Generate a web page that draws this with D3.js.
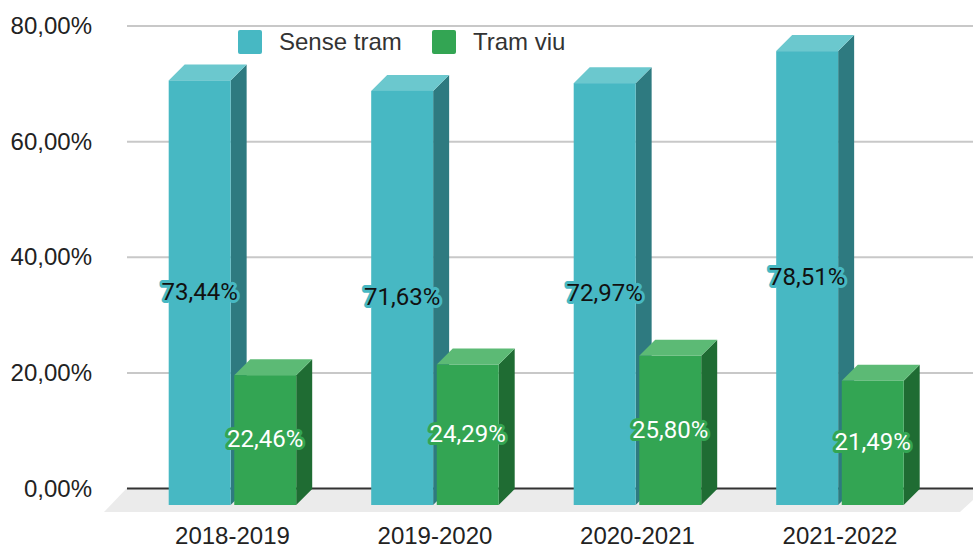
<!DOCTYPE html>
<html>
<head>
<meta charset="utf-8">
<script src="https://cdn.jsdelivr.net/npm/d3@7"></script>
<style>
  html, body { margin: 0; padding: 0; background: #fff; }
  svg { display: block; }
  text { font-family: "Liberation Sans", Arial, sans-serif; }
  .axis path, .axis line { display: none; }
  .axis text { font-size: 24px; fill: #222; font-family: "Liberation Sans", Arial, sans-serif; }
  .value { font-family: Roboto, sans-serif; }
</style>
</head>
<body>
<div id="chart"></div>
<script>
// 3D style grouped column chart
const years = ["2018-2019", "2019-2020", "2020-2021", "2021-2022"];
const senseTram = [73.44, 71.63, 72.97, 78.51];
const tramViu = [22.46, 24.29, 25.80, 21.49];
const seriesNames = ["Sense tram", "Tram viu"];
const yTicks = [0, 20, 40, 60, 80];

const width = 973, height = 547;
const depth = 16;

const colors = [
    { front: "#47b8c3", top: "#6bc8ce", side: "#2e7a80", text: "#111" },
    { front: "#33a553", top: "#5cba75", side: "#1f6c33", text: "#fff" }
];

const svg = d3.select("#chart").append("svg")
    .attr("width", width)
    .attr("height", height);

const groupW = 127.5;
const x0 = d3.scaleBand().domain(years).range([131.2, 941.2]);
const x1 = d3.scaleBand().domain([0, 1]).range([0, groupW]).paddingInner(0.055);

// front faces stand on y(0), gridlines sit on the back wall
const y = d3.scaleLinear().domain([0, 80]).range([505, 42.5]);
const yWall = d3.scaleLinear().domain([0, 80]).range([488.5, 26]);

// floor
svg.append("polygon")
    .attr("points", [[104, 512], [127, 488], [973, 488], [973, 500], [960, 512]].join(" "))
    .attr("fill", "#ebebeb");

// grid
svg.append("g")
    .selectAll("line")
    .data(yTicks)
    .enter()
    .append("line")
    .attr("x1", 127)
    .attr("x2", width)
    .attr("y1", d => yWall(d))
    .attr("y2", d => yWall(d))
    .attr("stroke", d => d === 0 ? "#333" : "#c8c8c8")
    .attr("stroke-width", 2);

// y axis
svg.append("g")
    .attr("class", "axis")
    .attr("transform", "translate(92,0)")
    .call(d3.axisLeft(yWall).tickValues(yTicks).tickSize(0).tickPadding(0)
        .tickFormat(d => d3.format(".2f")(d).replace(".", ",") + "%"));

// x axis
svg.append("g")
    .attr("class", "axis")
    .attr("transform", "translate(0,525)")
    .call(d3.axisBottom(x0).tickSize(0).tickPadding(0))
    .selectAll("text")
    .attr("dy", "0.36em")
    .attr("y", 10);

const bars = [];
years.forEach((yr, i) => {
    [senseTram[i], tramViu[i]].forEach((v, s) => bars.push({ yr, v, s }));
});

const barW = x1.bandwidth();
const barX = d => x0(d.yr) + (x0.bandwidth() - groupW) / 2 + x1(d.s);

const bar = svg.append("g").selectAll("g")
    .data(bars)
    .enter()
    .append("g");

// side
bar.append("polygon")
    .attr("fill", d => colors[d.s].side)
    .attr("points", d => {
        const r = barX(d) + barW, t = y(d.v), b = y(0);
        return [[r, t], [r + depth, t - depth], [r + depth, b - depth], [r, b]].join(" ");
    });

// top
bar.append("polygon")
    .attr("fill", d => colors[d.s].top)
    .attr("points", d => {
        const l = barX(d), t = y(d.v);
        return [[l, t], [l + depth, t - depth], [l + barW + depth, t - depth], [l + barW, t]].join(" ");
    });

// front
bar.append("rect")
    .attr("x", barX)
    .attr("y", d => y(d.v))
    .attr("width", barW)
    .attr("height", d => y(0) - y(d.v))
    .attr("fill", d => colors[d.s].front);

// value labels
svg.append("g").selectAll("text")
    .data(bars)
    .enter()
    .append("text")
    .attr("class", "value")
    .attr("x", d => barX(d) + barW / 2)
    .attr("y", d => (y(d.v) + y(0)) / 2 - 1.5)
    .attr("dy", "0.36em")
    .attr("text-anchor", "middle")
    .attr("font-size", 24)
    .attr("fill", d => colors[d.s].text)
    .attr("stroke", d => colors[d.s].front)
    .attr("stroke-width", 6)
    .attr("stroke-linejoin", "round")
    .attr("paint-order", "stroke")
    .text(d => d.v.toFixed(2).replace(".", ",") + "%");

// legend
const legendX = d3.scaleOrdinal().domain(seriesNames).range([238, 432]);
const legend = svg.append("g").selectAll("g")
    .data(seriesNames)
    .enter()
    .append("g")
    .attr("transform", d => `translate(${legendX(d)},30)`);

legend.append("rect")
    .attr("width", 24)
    .attr("height", 24)
    .attr("rx", 2)
    .attr("fill", (d, i) => colors[i].front);

legend.append("text")
    .attr("x", 41)
    .attr("y", 11)
    .attr("dy", "0.36em")
    .attr("font-size", 24)
    .attr("fill", "#333")
    .text(d => d);
</script>
</body>
</html>
